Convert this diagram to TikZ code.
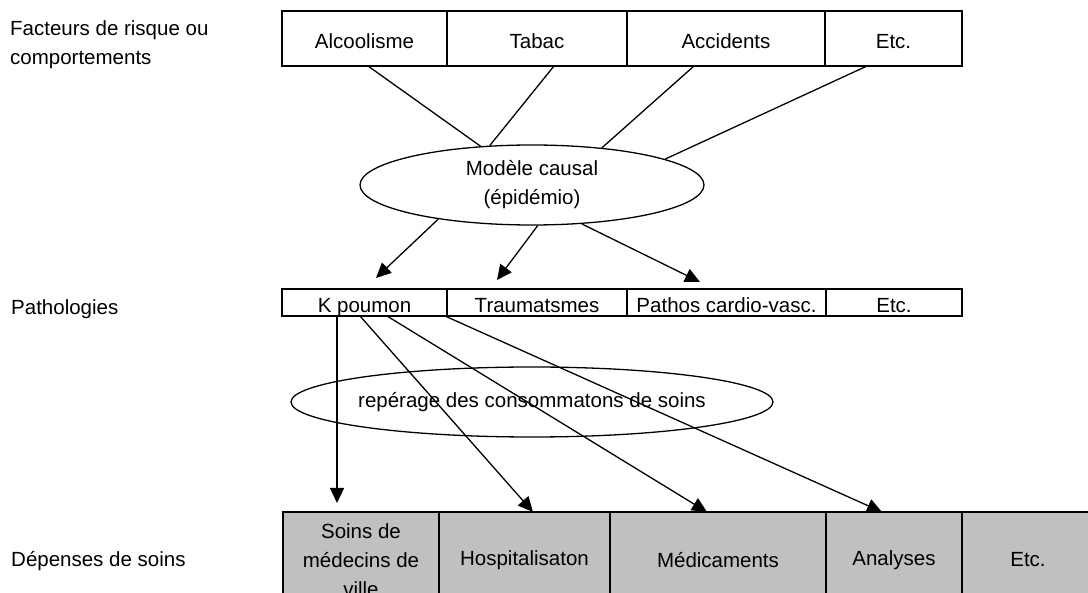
\documentclass[tikz,border=0pt]{standalone}
\usepackage{fontspec}
\setmainfont{Liberation Sans}
\usetikzlibrary{arrows.meta,shapes.geometric,calc}
\definecolor{cellgray}{HTML}{C0C0C0}
\tikzset{
  every node/.style={font=\fontsize{20.5}{29}\selectfont},
  cellbox/.style={draw, line width=2.4pt, outer sep=0pt, inner sep=0pt,
    anchor=north west, text height=21pt, text depth=0pt},
  toprow/.style={cellbox, minimum height=55pt},
  pathrow/.style={cellbox, minimum height=27pt},
  costrow/.style={draw, line width=2.4pt, outer sep=0pt, inner sep=0pt,
    anchor=north west, fill=cellgray, minimum height=96pt, align=center},
  oval/.style={ellipse, draw, line width=1.3pt, inner sep=0pt, align=center},
  rowlabel/.style={inner sep=0pt, align=left},
  conn/.style={line width=1.3pt},
  arr/.style={conn, -{Triangle[length=15pt,width=14pt]}}
}
\begin{document}
\begin{tikzpicture}[x=1pt,y=-1pt]
\useasboundingbox (0,0) rectangle (1088,593);
\clip (0,0) rectangle (1088,593);

% row labels
\node[rowlabel, anchor=north west] (lab1) at (10,20) {Facteurs de risque ou\\comportements};
\node[rowlabel, anchor=base west] (lab2) at (11,315) {Pathologies};
\node[rowlabel, anchor=base west] (lab3) at (11,567) {Dépenses de soins};

% top row: risk factors
\node[toprow, minimum width=165pt] (alc) at (282,11) {Alcoolisme};
\node[toprow, minimum width=180pt] (tab) at (447,11) {Tabac};
\node[toprow, minimum width=198pt] (acc) at (627,11) {Accidents};
\node[toprow, minimum width=137pt] (etc1) at (825,11) {Etc.};

% causal model
\node[oval, minimum width=344pt, minimum height=80pt, fill=white] (m1) at (532,185)
  {Modèle causal\\(épidémio)};

\draw[conn] ([xshift=3.5pt]alc.south) -- (m1.143);
\draw[conn] ([xshift=17pt]tab.south) -- (m1.137);
\draw[conn] ([xshift=-32pt]acc.south) -- (m1.28.5);
\draw[conn] ([xshift=-26.5pt]etc1.south) -- (m1.11.2);

% pathologies row
\node[pathrow, minimum width=165pt] (kp) at (282,289) {K poumon};
\node[pathrow, minimum width=180pt] (tr) at (447,289) {Traumatsmes};
\node[pathrow, minimum width=199pt] (pa) at (627,289) {Pathos cardio-vasc.};
\node[pathrow, minimum width=136pt] (etc2) at (826,289) {Etc.};

\draw[arr] (m1.200.6) -- ([xshift=11.5pt,yshift=11pt]kp.north);
\draw[arr] (m1.-82) -- ([xshift=-40pt,yshift=9pt]tr.north);
\draw[arr] (m1.-38.4) -- ([xshift=-26.5pt,yshift=7pt]pa.north);

% care consumption ellipse
\node[oval, minimum width=482pt, minimum height=70pt] (m2) at (532,402)
  {\makebox[0pt]{repérage des consommatons de soins}};

% bottom row: care expenditures
\node[costrow, minimum width=156pt] (soins) at (283,512) {Soins de\\médecins de\\ville};
\node[costrow, minimum width=171pt] (hosp) at (439,512) {Hospitalisaton};
\node[costrow, minimum width=216pt] (med) at (610,512) {Médicaments};
\node[costrow, minimum width=136pt] (ana) at (826,512) {Analyses};
\node[costrow, minimum width=132pt] (etc3) at (962,512) {Etc.};

\draw[arr] ([xshift=-27.5pt]kp.south) -- ([xshift=-24pt,yshift=9pt]soins.north);
\draw[arr] ([xshift=-4.5pt]kp.south) -- ([xshift=8.5pt]hosp.north);
\draw[arr] ([xshift=22.5pt]kp.south) -- ([xshift=-11pt]med.north);
\draw[arr] ([xshift=80.5pt]kp.south) -- ([xshift=-12pt]ana.north);
\end{tikzpicture}
\end{document}
